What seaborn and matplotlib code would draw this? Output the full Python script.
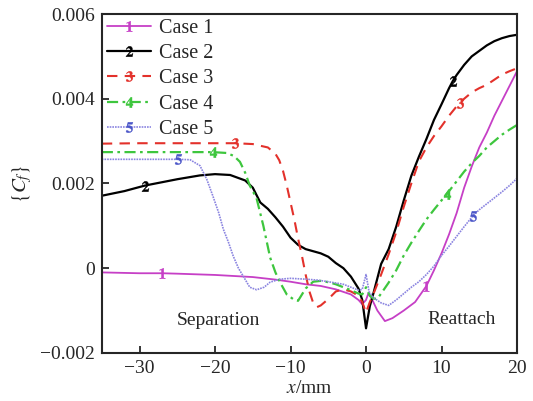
import numpy as np
import pandas as pd
import seaborn as sns
import matplotlib.pyplot as plt
from matplotlib.ticker import FuncFormatter

# values, Cf in units of 1e-3
x1 = [-35, -30, -27, -25, -20, -15, -12, -10, -8, -6, -4, -2, -1, -0.5, 0, 0.3, 0.7, 1.5, 2.5, 3.5,
      5, 6.5, 8, 9, 10, 11, 12, 13, 14, 15, 16, 17, 18, 19, 20]
y1 = [-0.10, -0.12, -0.12, -0.13, -0.16, -0.21, -0.27, -0.32, -0.38, -0.42, -0.50, -0.62, -0.75, -0.85,
      -0.75, -0.60, -0.70, -1.00, -1.25, -1.18, -1.00, -0.80, -0.42, -0.05, 0.35, 0.80, 1.30, 1.90,
      2.40, 2.85, 3.20, 3.60, 3.95, 4.30, 4.65]

x2 = [-35, -32, -29.3, -27, -25, -22, -20, -18, -16, -15, -14, -13, -12, -11, -10, -9, -8, -7, -6, -5,
      -4, -3, -2, -1, -0.5, 0, 0.5, 1, 2, 3, 4, 5, 6, 7, 8, 9, 10, 11, 11.5, 12, 13, 14, 15, 16, 17,
      18, 19, 20]
y2 = [1.71, 1.82, 1.95, 2.03, 2.10, 2.19, 2.22, 2.20, 2.07, 1.90, 1.55, 1.40, 1.20, 0.98, 0.72, 0.55,
      0.45, 0.40, 0.35, 0.27, 0.12, 0.00, -0.20, -0.48, -0.75, -1.42, -0.90, -0.58, 0.10, 0.45, 0.98,
      1.60, 2.18, 2.63, 3.05, 3.50, 3.87, 4.25, 4.42, 4.56, 4.80, 5.00, 5.13, 5.26, 5.36, 5.43, 5.48,
      5.51]

x3 = [-35, -30, -25, -20, -17.3, -15, -13, -12, -11.5, -11, -10.5, -10, -9.5, -9, -8.5, -8, -7.5, -7,
      -6.5, -6, -5, -4, -3, -2, -1, -0.5, 0, 0.5, 1, 2, 3, 4, 5, 6, 7, 8, 9, 10, 11, 12, 12.5,
      13, 14, 15, 16, 17, 18, 19, 20]
y3 = [2.94, 2.95, 2.95, 2.95, 2.95, 2.93, 2.85, 2.70, 2.55, 2.30, 1.95, 1.55, 1.15, 0.70, 0.30, -0.15,
      -0.55, -0.82, -0.92, -0.88, -0.73, -0.55, -0.50, -0.55, -0.65, -0.80, -1.05, -0.80, -0.60,
      -0.15, 0.33, 0.85, 1.45, 2.00, 2.52, 2.85, 3.12, 3.35, 3.60, 3.82, 3.91, 4.00, 4.15,
      4.25, 4.33, 4.45, 4.57, 4.65, 4.72]

x4 = [-35, -30, -25, -20.3, -18.5, -17.5, -16.7, -16, -15.4, -14.5, -13.6, -12.7, -12, -11.4, -10.5,
      -9.5, -9, -8, -7, -6, -5, -4, -3, -2, -1, -0.5, 0, 0.5, 1, 1.5, 2, 3, 4, 5, 6, 7, 8, 9, 10,
      10.7, 11, 12, 13, 14, 15, 16, 17, 18, 19, 20]
y4 = [2.74, 2.74, 2.74, 2.74, 2.72, 2.65, 2.51, 2.25, 1.95, 1.65, 1.00, 0.25, -0.10, -0.33, -0.62,
      -0.75, -0.77, -0.48, -0.32, -0.30, -0.33, -0.38, -0.45, -0.52, -0.60, -0.62, -0.45, -0.65,
      -0.72, -0.72, -0.60, -0.34, -0.05, 0.30, 0.60, 0.88, 1.15, 1.38, 1.60, 1.75, 1.82, 2.05,
      2.28, 2.48, 2.65, 2.85, 3.00, 3.15, 3.27, 3.38]

x5 = [-35, -30, -24.9, -23.3, -22, -21.1, -20.3, -19.5, -18.9, -18.2, -17.6, -16.9, -16.3, -15.4,
      -14.5, -13.5, -12.7, -11.4, -10, -8, -6.5, -5, -3, -2, -1, -0.5, 0, 0.4, 1, 2, 3, 4, 5, 6, 7,
      8, 9, 10, 11, 12, 13, 14, 14.2, 15, 16, 17, 18, 19, 20]
y5 = [2.57, 2.57, 2.57, 2.56, 2.42, 2.10, 1.71, 1.30, 0.92, 0.60, 0.29, 0.00, -0.18, -0.45, -0.51,
      -0.45, -0.33, -0.26, -0.24, -0.26, -0.28, -0.32, -0.38, -0.45, -0.52, -0.50, -0.15, -0.55,
      -0.70, -0.82, -0.88, -0.75, -0.60, -0.45, -0.32, -0.15, 0.05, 0.30, 0.52, 0.75, 0.98, 1.20,
      1.24, 1.38, 1.52, 1.66, 1.80, 1.95, 2.12]

# where the case number is written on each curve
tag_x = {1: [-27, 8], 2: [-29.3, 11.5], 3: [-17.3, 12.5], 4: [-20.3, 10.7], 5: [-24.9, 14.2]}

cases = [
    (1, x1, y1, '#c63fc6', '-', 1.3, '#c63fc6'),
    (2, x2, y2, 'black', '-', 1.6, 'black'),
    (3, x3, y3, '#e3312b', (0, (5, 3.5)), 1.5, '#e3312b'),
    (4, x4, y4, '#3ec63e', (0, (5, 2, 1.2, 2)), 1.6, '#3ec63e'),
    (5, x5, y5, '#8a84e0', (0, (1, 0.6)), 1.2, '#4a55c8'),
]

sns.set_theme(style='ticks')
plt.rcParams['font.family'] = ['Liberation Serif', 'DejaVu Serif']
plt.rcParams['mathtext.fontset'] = 'stix'

fig = plt.figure(figsize=(5.33, 4.01), dpi=100)
ax = fig.add_axes([0.191, 0.12, 0.779, 0.845])

for n, xs, ys, col, ls, lw, mcol in cases:
    df = pd.DataFrame({'x': xs, 'y': np.array(ys) * 1e-3})
    idx = [int(np.argmin(np.abs(df['x'].values - t))) for t in tag_x[n]]
    sns.lineplot(data=df, x='x', y='y', ax=ax, color=col, linestyle=ls, linewidth=lw,
                 marker=r'$\mathbf{%d}$' % n, markersize=7.5, markevery=idx,
                 markerfacecolor=mcol, markeredgecolor=mcol, markeredgewidth=0.3,
                 label='Case %d' % n, sort=False, estimator=None)

ax.set_xlim(-35, 20)
ax.set_ylim(-0.002, 0.006)
ax.set_xticks([-30, -20, -10, 0, 10, 20])
ax.set_yticks([-0.002, 0, 0.002, 0.004, 0.006])
ax.xaxis.set_major_formatter(FuncFormatter(lambda v, _: ('%d' % v).replace('-', '\u2212')))
ax.yaxis.set_major_formatter(FuncFormatter(
    lambda v, _: '0' if abs(v) < 1e-9 else ('%.3f' % v).replace('-', '\u2212')))
ax.tick_params(direction='in', length=5, width=1.3, labelsize=14, pad=5)
for s in ax.spines.values():
    s.set_linewidth(1.5)
    s.set_visible(True)

ax.set_xlabel(r'$x$/mm', fontsize=14, labelpad=2)
ax.set_ylabel(r'$\{C_f\}$', fontsize=15, labelpad=4)

ax.text(-19.6, -0.00123, 'Separation', fontsize=14, ha='center', va='center')
ax.text(12.6, -0.00121, 'Reattach', fontsize=14, ha='center', va='center')

ax.legend(loc='upper left', frameon=False, fontsize=14.5, handlelength=2.2,
          handletextpad=0.4, labelspacing=0.3, borderaxespad=0.1, borderpad=0.15)

fig.savefig('out.png', dpi=100)
